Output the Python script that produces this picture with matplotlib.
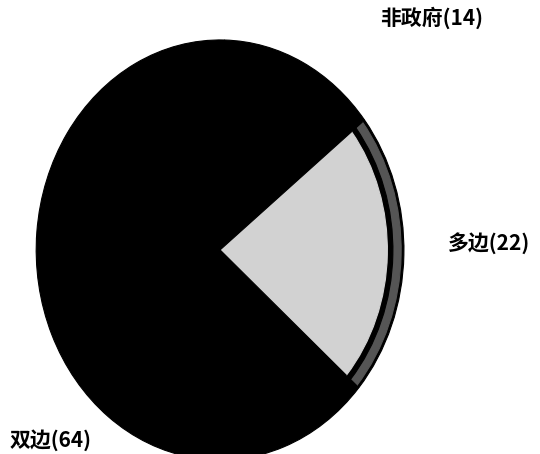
import matplotlib.pyplot as plt

plt.rcParams['font.family'] = ['Noto Sans CJK SC', 'DejaVu Sans']

# data
names = ['多边', '非政府', '双边']
values = [22, 14, 64]

fig = plt.figure(figsize=(5.4, 4.54), dpi=100)
# axes stretched so the pie comes out as a tall ellipse, as in the scan
ax = fig.add_axes([0.067, -0.013, 0.681, 0.925])

start = -41


def layer(radius, cols):
    ax.pie(values, startangle=start, radius=radius, colors=cols,
           wedgeprops=dict(linewidth=0.8, edgecolor=None))
    for w, c in zip(ax.patches[-len(values):], cols):
        w.set_edgecolor(c)


# outer layer: thin black outline, then dark grey rim behind the light slice
layer(1.0, ['black', 'black', 'black'])
layer(0.985, ['#555555', 'black', 'black'])
# black band
layer(0.94, ['black', 'black', 'black'])
# light speckled slice
layer(0.91, ['#d2d2d2', 'black', 'black'])
ax.set_aspect('auto')
ax.set_xlim(-1, 1)
ax.set_ylim(-1, 1)
ax.axis('off')

labels = [f'{n}({v})' for n, v in zip(names, values)]
label_pos = {'多边': (0.905, 0.465), '非政府': (0.80, 0.96), '双边': (0.093, 0.03)}
for n, lab in zip(names, labels):
    x, y = label_pos[n]
    fig.text(x, y, lab, ha='center', va='center', fontsize=15, fontweight='bold',
             color='black')

fig.savefig('out.png', dpi=100, facecolor='white')
